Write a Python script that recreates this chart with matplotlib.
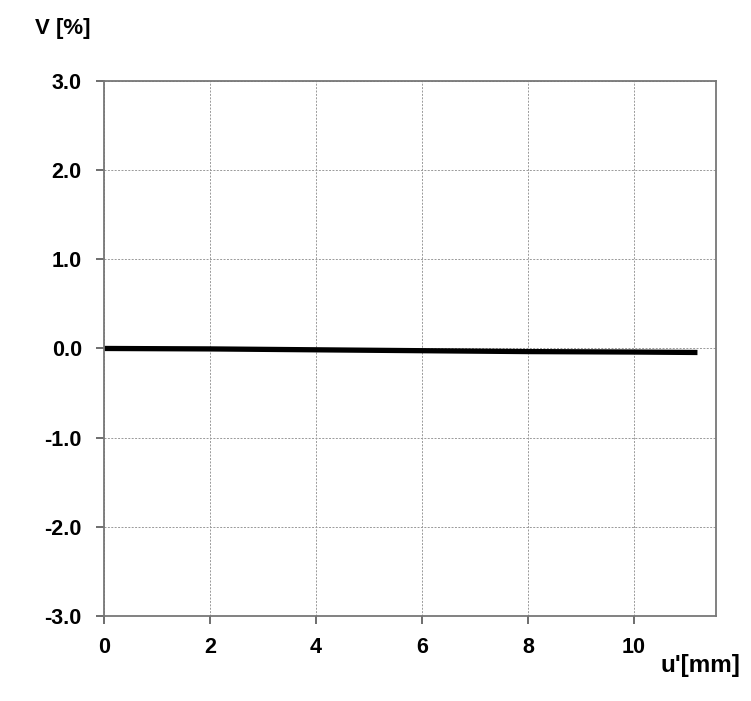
import matplotlib
matplotlib.use('Agg')

import matplotlib.pyplot as plt

# data
u_mm = [0, 2, 4, 6, 8, 10, 11.2]
v_pct = [0.0, -0.005, -0.015, -0.025, -0.035, -0.04, -0.045]

x_ticks = [0, 2, 4, 6, 8, 10]
y_ticks = [-3.0, -2.0, -1.0, 0.0, 1.0, 2.0, 3.0]

plt.rcParams['font.family'] = ['Liberation Sans', 'DejaVu Sans']

fig = plt.figure(figsize=(7.51, 7.01), dpi=100)
ax = fig.add_axes([0.1385, 0.1213, 0.8149, 0.7632])

ax.plot(u_mm, v_pct, color='black', linewidth=3.8, solid_capstyle='butt')

ax.set_xlim(0, 11.55)
ax.set_ylim(-3.0, 3.0)
ax.set_xticks(x_ticks)
ax.set_yticks(y_ticks)
ax.set_xticklabels([str(t) for t in x_ticks])
ax.set_yticklabels([f"{t:.1f}" for t in y_ticks])

ax.grid(True, color='#999999', linestyle=(0, (2, 1.5)), linewidth=0.7)
for s in ax.spines.values():
    s.set_color('#777777')
    s.set_linewidth(1.3)

ax.tick_params(direction='out', length=6, width=1.2, color='#555555',
               labelsize=15.5)
ax.tick_params(axis='x', pad=9)
ax.tick_params(axis='y', pad=10)
for lab in ax.get_xticklabels() + ax.get_yticklabels():
    lab.set_fontweight('bold')

fig.text(0.047, 0.960, "V [%]", fontsize=16, fontweight='bold', va='center', ha='left')
fig.text(0.986, 0.051, "u'[mm]", fontsize=17.5, fontweight='bold', va='center', ha='right')

fig.savefig('out.png', dpi=100)
